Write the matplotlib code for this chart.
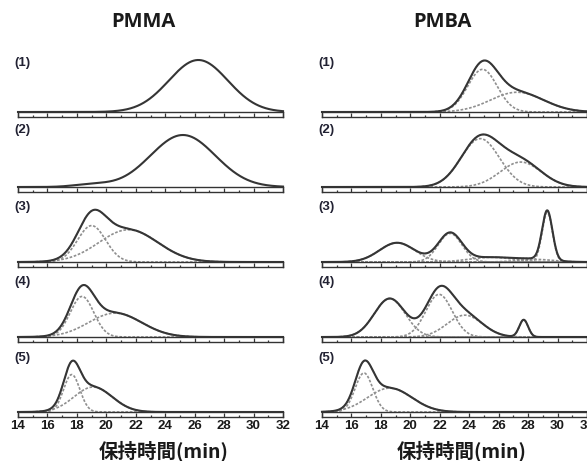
import numpy as np
import matplotlib
matplotlib.use("Agg")
import matplotlib.pyplot as plt
from matplotlib.ticker import MultipleLocator

# ---- data: Gaussian components (center [min], height, sigma [min]) ----
x_ticks = [14, 16, 18, 20, 22, 24, 26, 28, 30, 32]
panel_labels = ["(1)", "(2)", "(3)", "(4)", "(5)"]
column_titles = ["PMMA", "PMBA"]
x_label = "保持時間(min)"

pmma_centers = [[26.25], [25.2, 19.0], [19.0, 21.5], [18.35, 20.6], [17.65, 19.1]]
pmma_heights = [[1.0], [1.0, 0.05], [0.70, 0.62], [0.78, 0.46], [0.72, 0.48]]
pmma_sigmas = [[2.0], [2.2, 1.2], [0.95, 2.0], [0.8, 1.8], [0.55, 1.3]]
pmma_show_parts = [False, False, True, True, True]

pmba_centers = [[24.9, 27.25], [24.75, 27.5], [19.1, 22.7, 25.5, 28.5, 29.3],
                [18.6, 21.95, 23.7, 27.7], [16.85, 18.6]]
pmba_heights = [[0.82, 0.38], [0.93, 0.48], [0.37, 0.55, 0.09, 0.05, 0.95],
                [0.74, 0.82, 0.42, 0.33], [0.75, 0.46]]
pmba_sigmas = [[1.0, 1.8], [1.3, 1.4], [1.2, 0.8, 1.5, 1.2, 0.35],
               [1.05, 0.9, 1.2, 0.3], [0.6, 1.5]]
pmba_show_parts = [True, True, True, True, True]

# ---- layout ----
W, H = 587, 461
fig = plt.figure(figsize=(W / 100, H / 100), dpi=100)
fig.patch.set_facecolor("white")

col_x0 = [18, 322]
ax_w_px = 265
box_tops = [112, 187, 262, 337, 412]
box_h = 5
curve_h = 52
label_y = [63, 130, 207, 282, 358]
label_x = [14, 318]
title_x = [143, 442]
xlabel_x = [164, 462]

solid_col = "#353535"
dash_col = "#8f8f8f"
text_col = "#1a1a1a"

t = np.linspace(14, 32, 1200)


def gauss(x, c, h, s):
    return h * np.exp(-0.5 * ((x - c) / s) ** 2)


def fx(px):
    return px / W


def fy(py):
    return 1 - py / H


cols = [(pmma_centers, pmma_heights, pmma_sigmas, pmma_show_parts),
        (pmba_centers, pmba_heights, pmba_sigmas, pmba_show_parts)]

for ci, (cs, hs, ss, show) in enumerate(cols):
    x0 = col_x0[ci]
    for pi in range(5):
        top = box_tops[pi]
        # curve axes
        ax = fig.add_axes([fx(x0), fy(top), ax_w_px / W, curve_h / H])
        ax.set_xlim(14, 32)
        ax.set_ylim(0, 1.0)
        ax.axis("off")
        total = np.zeros_like(t)
        parts = []
        for c, h, s in zip(cs[pi], hs[pi], ss[pi]):
            g = gauss(t, c, h, s)
            parts.append(g)
            total += g
        if show[pi]:
            for g in parts:
                ax.plot(t, g, color=dash_col, lw=1.2, ls=(0, (1.6, 1.0)), clip_on=False, zorder=2)
            ax.plot(t, total, color="#a8a8a8", lw=1.1, ls=(0, (1, 1)), clip_on=False, zorder=2)
        ax.plot(t, total, color=solid_col, lw=1.5, clip_on=False, zorder=3)

        # axis box
        bx = fig.add_axes([fx(x0), fy(top + box_h), ax_w_px / W, box_h / H])
        bx.set_xlim(14, 32)
        bx.set_yticks([])
        for sp in bx.spines.values():
            sp.set_linewidth(1.0)
            sp.set_color("#333333")
        bx.xaxis.set_major_locator(MultipleLocator(2))
        bx.xaxis.set_minor_locator(MultipleLocator(1))
        bx.tick_params(axis="x", which="major", direction="in", length=2.6, width=0.9, color="#333333")
        bx.tick_params(axis="x", which="minor", direction="in", length=1.6, width=0.9, color="#333333")
        bx.set_xticks(x_ticks)
        if pi == 4:
            bx.set_xticklabels([str(v) for v in x_ticks], fontsize=9.5, fontweight="bold",
                               family=["Liberation Sans", "DejaVu Sans"], color=text_col)
            bx.tick_params(axis="x", which="major", pad=2.5)
        else:
            bx.set_xticklabels([])

        fig.text(fx(label_x[ci]), fy(label_y[pi]), panel_labels[pi], fontsize=9.5,
                 fontweight="bold", family=["Liberation Sans", "DejaVu Sans"],
                 color="#222233", ha="left", va="center")

    fig.text(fx(title_x[ci]), fy(22), column_titles[ci], fontsize=14.5, fontweight="bold",
             family=["Open Sans", "DejaVu Sans"], color=text_col, ha="center", va="center")
    fig.text(fx(xlabel_x[ci]), fy(451), x_label, fontsize=14, fontweight="bold",
             family=["Noto Sans CJK JP", "DejaVu Sans"], color=text_col, ha="center", va="center")

fig.savefig("out.png", dpi=100, facecolor="white")
